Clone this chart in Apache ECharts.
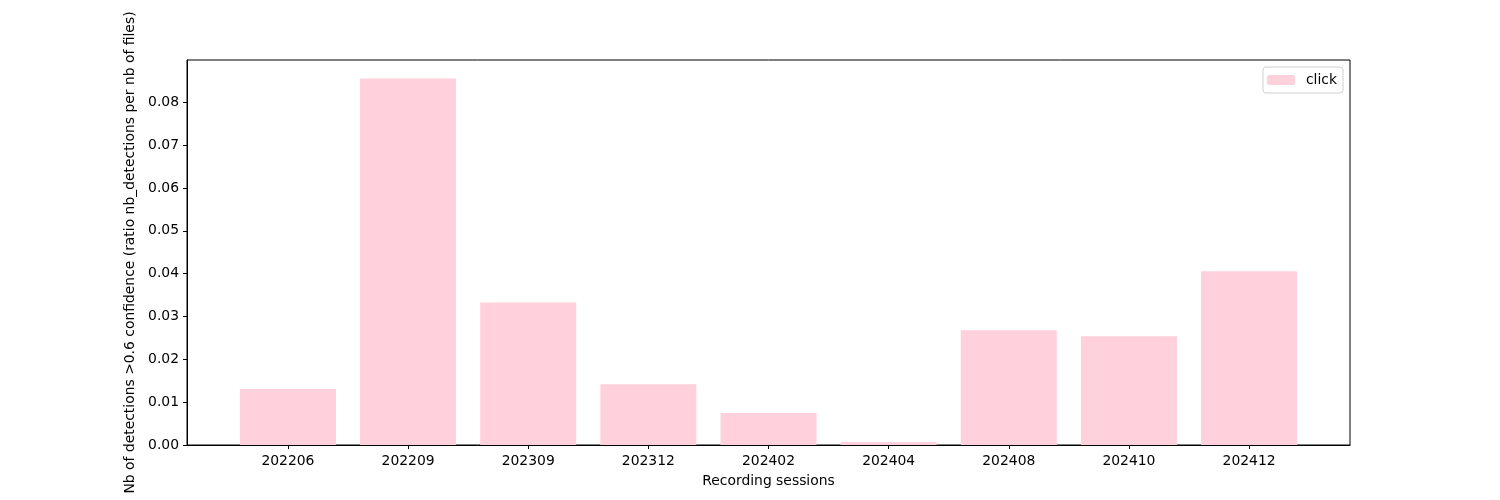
<!DOCTYPE html>
<html>
<head>
<meta charset="utf-8">
<script src="https://cdn.jsdelivr.net/npm/echarts@6/dist/echarts.min.js"></script>
<style>
  html, body { margin: 0; padding: 0; background: #fff; }
  #chart { width: 1500px; height: 500px; }
</style>
</head>
<body>
<div id="chart"></div>
<script>
// recording sessions and detection ratios
const sessions = ['202206', '202209', '202309', '202312', '202402', '202404', '202408', '202410', '202412'];
const clickRatio = [0.0131, 0.0856, 0.0333, 0.0142, 0.0075, 0.0007, 0.0268, 0.0254, 0.0406];
const yTicks = [0, 0.01, 0.02, 0.03, 0.04, 0.05, 0.06, 0.07, 0.08];

const FONT = 'DejaVu Sans';
const FS = 13.9;
const chart = echarts.init(document.getElementById('chart'));

const positions = sessions.map((_, i) => i);

chart.setOption({
  animation: false,
  textStyle: { fontFamily: FONT },
  grid: {
    left: 187, right: 150, top: 60, bottom: 55,
    show: true, borderColor: '#000', borderWidth: 1, backgroundColor: 'transparent'
  },
  legend: {
    data: ['click'],
    right: 157, top: 67,
    orient: 'vertical',
    itemWidth: 28, itemHeight: 10,
    padding: [6, 6, 6, 4],
    borderColor: '#d0d0d0', borderWidth: 1, borderRadius: 3,
    textStyle: { fontFamily: FONT, fontSize: FS, color: '#000', padding: [0, 0, 0, 6] }
  },
  xAxis: {
    type: 'value',
    min: -0.84, max: 8.84,
    name: 'Recording sessions',
    nameLocation: 'middle', nameGap: 29,
    nameTextStyle: { fontFamily: FONT, fontSize: FS, color: '#000' },
    splitLine: { show: false },
    axisLine: { show: true, onZero: false, lineStyle: { color: '#000', width: 1 } },
    axisTick: { show: true, customValues: positions, length: 4, lineStyle: { color: '#000' } },
    axisLabel: {
      customValues: positions,
      formatter: v => sessions[Math.round(v)] || '',
      fontFamily: FONT, fontSize: FS, color: '#000', margin: 9
    }
  },
  yAxis: {
    type: 'value',
    min: 0, max: 0.0899,
    name: 'Nb of detections >0.6 confidence (ratio nb_detections per nb of files)',
    nameLocation: 'middle', nameGap: 45,
    nameTextStyle: { fontFamily: FONT, fontSize: FS, color: '#000' },
    splitLine: { show: false },
    axisLine: { show: true, onZero: false, lineStyle: { color: '#000', width: 1 } },
    axisTick: { show: true, customValues: yTicks, length: 4, lineStyle: { color: '#000' } },
    axisLabel: {
      customValues: yTicks,
      formatter: v => v.toFixed(2),
      fontFamily: FONT, fontSize: FS, color: '#000', margin: 8
    }
  },
  series: [{
    name: 'click',
    type: 'bar',
    barWidth: 96,
    itemStyle: { color: '#FFD1DC' },
    data: clickRatio.map((v, i) => [i, v])
  }]
});
</script>
</body>
</html>
